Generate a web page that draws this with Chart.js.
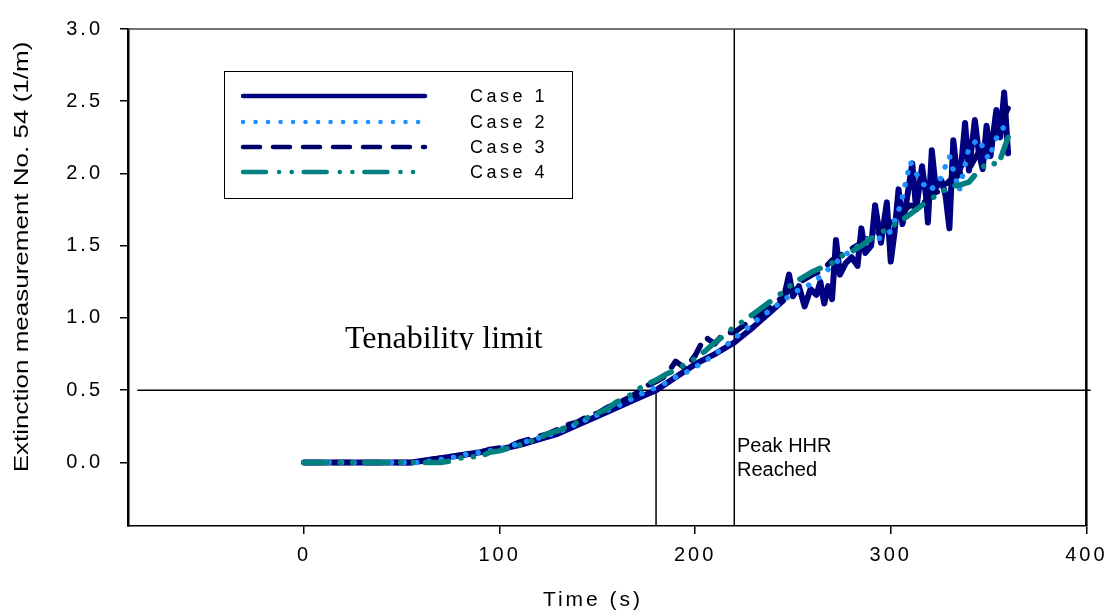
<!DOCTYPE html>
<html>
<head>
<meta charset="utf-8">
<script src="https://cdn.jsdelivr.net/npm/chart.js@4.4.0/dist/chart.umd.min.js"></script>
<style>
  html, body { margin: 0; padding: 0; background: #fff; }
  canvas { display: block; }
</style>
</head>
<body>
<canvas id="extinctionChart" width="1112" height="616"></canvas>
<script>
    // series names and axis ticks
    const seriesLabels = ['Case 1', 'Case 2', 'Case 3', 'Case 4'];
    const xTicks = [0, 100, 200, 300, 400];
    const yTicks = [0, 0.5, 1, 1.5, 2, 2.5, 3];

    // Case 1 (own time samples, noisy at the end)
    const case1Time = [0, 10, 20, 30, 40, 50, 55, 60, 70, 80, 90, 100, 110, 120, 130, 140, 150, 160, 170, 180,
        190, 200, 210, 220, 230, 240, 245, 248, 250, 253, 256, 259, 262, 264, 266, 268, 270, 272, 274, 277,
        280, 283, 285, 287, 290, 292, 295, 298, 300, 302, 304, 306, 308, 311, 313, 316, 318, 319, 321, 323,
        326, 328, 330, 332, 334, 336, 338, 340, 343, 345, 347, 349, 351, 354, 356, 358, 359, 360];
    const case1Value = [0, 0, 0, 0, 0, 0, 0, 0.01, 0.03, 0.05, 0.07, 0.09, 0.12, 0.16, 0.2, 0.26, 0.32, 0.38, 0.44, 0.5,
        0.59, 0.68, 0.75, 0.83, 0.94, 1.06, 1.12, 1.30, 1.15, 1.22, 1.08, 1.20, 1.16, 1.25, 1.10, 1.22, 1.13, 1.54, 1.30, 1.38,
        1.42, 1.36, 1.62, 1.45, 1.50, 1.78, 1.52, 1.80, 1.39, 1.60, 1.89, 1.65, 1.80, 2.07, 1.75, 2.05, 1.85, 1.66, 2.16, 1.90,
        1.95, 1.85, 1.62, 2.23, 1.98, 2.05, 2.35, 2.02, 2.37, 2.15, 2.03, 2.33, 2.12, 2.44, 2.25, 2.56, 2.35, 2.14];

    // Cases 2-4 share 5 s samples
    const sampleTime = [0, 5, 10, 15, 20, 25, 30, 35, 40, 45, 50, 55,
        60, 65, 70, 75, 80, 85, 90, 95, 100, 105,
        110, 115, 120, 125, 130, 135, 140, 145, 150, 155,
        160, 165, 170, 175, 180, 185, 190, 195, 200, 205,
        210, 215, 220, 225, 230, 235, 240, 245, 250, 255,
        260, 265, 270, 275, 280, 285, 290, 295, 300, 305,
        310, 315, 320, 325, 330, 335, 340, 345, 350, 355,
        360];
    const case2Value = [0, 0, 0, 0, 0, 0, 0, 0, 0, 0, 0, 0,
        0, 0.01, 0.02, 0.03, 0.05, 0.06, 0.07, 0.08, 0.09, 0.11,
        0.13, 0.15, 0.17, 0.19, 0.21, 0.24, 0.27, 0.3, 0.33, 0.36,
        0.39, 0.42, 0.46, 0.49, 0.52, 0.55, 0.59, 0.62, 0.66, 0.70,
        0.75, 0.8, 0.86, 0.91, 0.97, 1.02, 1.07, 1.12, 1.17, 1.21,
        1.24, 1.30, 1.36, 1.42, 1.47, 1.51, 1.56, 1.55, 1.60, 1.78,
        2.08, 1.95, 1.88, 1.95, 2.12, 1.88, 2.18, 2.24, 2.1, 2.28,
        2.35];
    const case3Value = [0, 0, 0, 0, 0, 0, 0, 0, 0, 0, 0, 0,
        0, 0.02, 0.03, 0.04, 0.05, 0.06, 0.07, 0.09, 0.10, 0.11,
        0.14, 0.16, 0.18, 0.20, 0.23, 0.26, 0.28, 0.32, 0.34, 0.38,
        0.41, 0.44, 0.48, 0.53, 0.56, 0.60, 0.70, 0.65, 0.74, 0.87,
        0.82, 0.90, 0.90, 0.95, 0.99, 1.04, 1.09, 1.15, 1.22, 1.26,
        1.30, 1.33, 1.40, 1.44, 1.48, 1.52, 1.57, 1.60, 1.66, 1.72,
        1.78, 1.76, 1.85, 1.88, 1.95, 2.0, 2.03, 2.15, 2.2, 2.32,
        2.45];
    const case4Value = [0, 0, 0, 0, 0, 0, 0, 0, 0, 0, 0, 0,
        0, 0, 0, 0.01, 0.03, 0.04, 0.04, 0.07, 0.08, 0.10,
        0.12, 0.14, 0.17, 0.20, 0.22, 0.25, 0.28, 0.31, 0.34, 0.37,
        0.42, 0.45, 0.50, 0.54, 0.57, 0.61, 0.64, 0.68, 0.72, 0.77,
        0.83, 0.88, 0.94, 0.98, 1.03, 1.08, 1.13, 1.18, 1.24, 1.28,
        1.32, 1.35, 1.38, 1.43, 1.46, 1.50, 1.55, 1.59, 1.63, 1.67,
        1.72, 1.77, 1.82, 1.86, 1.91, 1.92, 1.94, 2.02, 2.08, 2.06,
        2.25];

    // reference lines (tenability limit, time it is reached, peak HRR)
    const limitTime = [-85, 402];
    const limitValue = [0.5, 0.5];
    const limitReachedTime = [180, 180];
    const limitReachedValue = [0.5, -0.44];
    const peakTime = [220, 220];
    const peakValue = [-0.44, 3];

    const toPoints = (xs, ys) => xs.map((x, i) => ({ x: x, y: ys[i] }));

    // legend, frame, axis titles and notes
    const decorPlugin = {
        id: 'decor',
        beforeDraw(chart) {
            chart.ctx.letterSpacing = '3px';
        },
        afterDraw(chart) {
            const ctx = chart.ctx;
            const area = chart.chartArea;
            ctx.save();
            ctx.letterSpacing = '0px';

            // top and right frame
            ctx.strokeStyle = '#444';
            ctx.lineWidth = 1.5;
            ctx.beginPath();
            ctx.moveTo(area.left, area.top);
            ctx.lineTo(area.right, area.top);
            ctx.stroke();
            ctx.strokeStyle = '#000';
            ctx.lineWidth = 2.5;
            ctx.beginPath();
            ctx.moveTo(area.right, area.top);
            ctx.lineTo(area.right, area.bottom);
            ctx.stroke();

            // legend box
            ctx.strokeStyle = '#000';
            ctx.lineWidth = 1;
            ctx.strokeRect(224.5, 71.5, 348, 127);
            const rowY = [96, 122, 147, 172];
            seriesLabels.forEach((label, i) => {
                const ds = chart.data.datasets[i];
                ctx.save();
                ctx.strokeStyle = ds.borderColor;
                ctx.lineWidth = 4.5;
                ctx.lineCap = 'round';
                ctx.setLineDash(ds.borderDash || []);
                ctx.beginPath();
                ctx.moveTo(243, rowY[i]);
                ctx.lineTo(425, rowY[i]);
                ctx.stroke();
                ctx.restore();
                ctx.fillStyle = '#000';
                ctx.font = '18px "Liberation Sans", Arial, sans-serif';
                ctx.letterSpacing = '3.5px';
                ctx.textBaseline = 'middle';
                ctx.textAlign = 'left';
                ctx.fillText(label, 470, rowY[i] + 1);
                ctx.letterSpacing = '0px';
            });

            // axis titles
            ctx.fillStyle = '#000';
            ctx.textAlign = 'center';
            ctx.textBaseline = 'middle';
            ctx.save();
            ctx.translate(22, 257);
            ctx.rotate(-Math.PI / 2);
            ctx.scale(1.3, 1);
            ctx.font = '20px "Liberation Sans", Arial, sans-serif';
            ctx.fillText('Extinction measurement No. 54 (1/m)', 0, 0);
            ctx.restore();

            ctx.font = '21px "Liberation Sans", Arial, sans-serif';
            ctx.letterSpacing = '3px';
            ctx.fillText('Time (s)', 593, 600);
            ctx.letterSpacing = '0px';

            // notes
            ctx.textAlign = 'left';
            ctx.textBaseline = 'alphabetic';
            ctx.font = '20px "Liberation Sans", Arial, sans-serif';
            ctx.fillText('Peak HHR', 737, 452);
            ctx.fillText('Reached', 737, 476);

            ctx.save();
            ctx.beginPath();
            ctx.rect(0, 0, chart.width, 350);
            ctx.clip();
            ctx.font = '32px "Liberation Serif", "Times New Roman", serif';
            ctx.fillText('Tenability limit', 345, 348);
            ctx.restore();

            ctx.restore();
        }
    };

    const tickFont = { family: 'Arial, "Liberation Sans", sans-serif', size: 20 };

    const ctx = document.getElementById('extinctionChart').getContext('2d');
    const extinctionChart = new Chart(ctx, {
        type: 'line',
        data: {
            datasets: [{
                label: seriesLabels[0],
                data: toPoints(case1Time, case1Value),
                borderColor: '#000080',
                borderWidth: 6,
                order: 3
            }, {
                label: seriesLabels[1],
                data: toPoints(sampleTime, case2Value),
                borderColor: '#1e90ff',
                borderWidth: 5.5,
                borderDash: [0.1, 12.4],
                order: 1
            }, {
                label: seriesLabels[2],
                data: toPoints(sampleTime, case3Value),
                borderColor: '#00006b',
                borderWidth: 5.5,
                borderDash: [17, 13],
                order: 2
            }, {
                label: seriesLabels[3],
                data: toPoints(sampleTime, case4Value),
                borderColor: '#008080',
                borderWidth: 5.5,
                borderDash: [23, 13, 0.1, 12.5, 0.1, 12],
                order: 0
            }, {
                label: 'limit',
                data: toPoints(limitTime, limitValue),
                borderColor: '#000',
                borderWidth: 1.5,
                clip: false,
                order: 5
            }, {
                label: 'limit reached',
                data: toPoints(limitReachedTime, limitReachedValue),
                borderColor: '#000',
                borderWidth: 1.5,
                order: 5
            }, {
                label: 'peak',
                data: toPoints(peakTime, peakValue),
                borderColor: '#000',
                borderWidth: 1.5,
                order: 5
            }]
        },
        options: {
            responsive: false,
            animation: false,
            devicePixelRatio: 1,
            layout: { padding: { top: 20, right: 24, left: 0, bottom: 0 } },
            elements: {
                point: { radius: 0 },
                line: { tension: 0, borderCapStyle: 'round', borderJoinStyle: 'round', fill: false }
            },
            plugins: {
                legend: { display: false },
                tooltip: { enabled: false }
            },
            scales: {
                x: {
                    type: 'linear',
                    min: -90,
                    max: 400,
                    afterBuildTicks: (scale) => { scale.ticks = xTicks.map(v => ({ value: v })); },
                    afterFit: (scale) => { scale.height = 90; },
                    grid: { drawOnChartArea: false, drawTicks: true, tickLength: 8, tickColor: '#000', lineWidth: 1.5 },
                    border: { color: '#000', width: 1.5 },
                    ticks: { color: '#000', font: tickFont, padding: 9, maxRotation: 0, autoSkip: false }
                },
                y: {
                    type: 'linear',
                    min: -0.44,
                    max: 3,
                    afterBuildTicks: (scale) => { scale.ticks = yTicks.map(v => ({ value: v })); },
                    afterFit: (scale) => { scale.width = 128; },
                    grid: { drawOnChartArea: false, drawTicks: true, tickLength: 8, tickColor: '#000', lineWidth: 1.5 },
                    border: { color: '#000', width: 2.5 },
                    ticks: {
                        color: '#000',
                        font: tickFont,
                        padding: 17,
                        callback: (v) => v.toFixed(1)
                    }
                }
            }
        },
        plugins: [decorPlugin]
    });
</script>
</body>
</html>
